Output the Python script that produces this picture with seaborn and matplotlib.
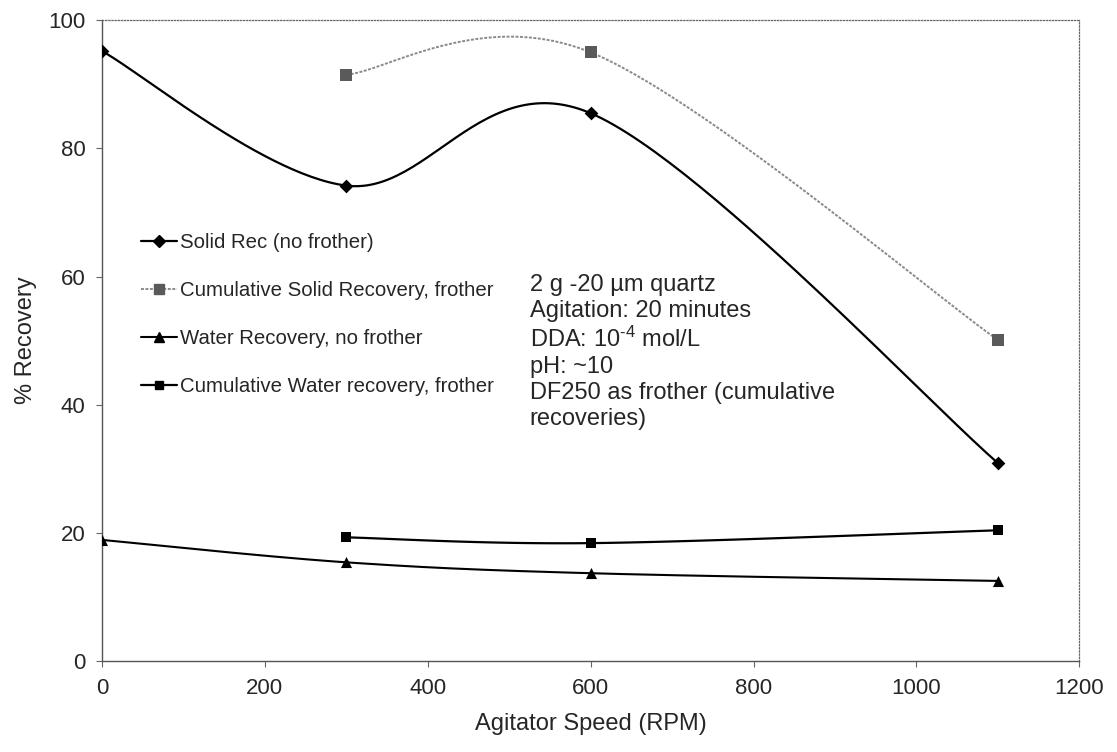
import numpy as np
import pandas as pd
import matplotlib
matplotlib.use("Agg")
import matplotlib.pyplot as plt
from matplotlib.lines import Line2D
import seaborn as sns

# Agitator speed (RPM) for each series
speed_no_frother = [0, 300, 600, 1100]
speed_frother = [300, 600, 1100]

# Recoveries (%)
solid_rec_no_frother = [95.2, 74.2, 85.5, 30.9]
cum_solid_rec_frother = [91.5, 95.0, 50.1]
water_rec_no_frother = [18.9, 15.4, 13.7, 12.5]
cum_water_rec_frother = [19.3, 18.4, 20.4]

series_labels = [
    "Solid Rec (no frother)",
    "Cumulative Solid Recovery, frother",
    "Water Recovery, no frother",
    "Cumulative Water recovery, frother",
]

x_ticks = [0, 200, 400, 600, 800, 1000, 1200]
y_ticks = [0, 20, 40, 60, 80, 100]

notes = ("2 g -20 \u00b5m quartz\n"
         "Agitation: 20 minutes\n"
         "DDA: 10$^{\u20104}$ mol/L\n"
         "pH: ~10\n"
         "DF250 as frother (cumulative\n"
         "recoveries)")


def smooth_curve(xs, ys, n=60):
    """Spreadsheet-style smoothed line: cubic Bezier segments with
    Catmull-Rom control points passing through every data point."""
    p = np.column_stack([xs, ys]).astype(float)
    m = len(p)
    out = []
    for i in range(m - 1):
        p0 = p[i]
        p3 = p[i + 1]
        prev = p[i - 1] if i > 0 else p[i]
        nxt = p[i + 2] if i + 2 < m else p[i + 1]
        c1 = p0 + (p3 - prev) / 6.0
        c2 = p3 - (nxt - p0) / 6.0
        t = np.linspace(0, 1, n)[:, None]
        seg = ((1 - t) ** 3 * p0 + 3 * (1 - t) ** 2 * t * c1
               + 3 * (1 - t) * t ** 2 * c2 + t ** 3 * p3)
        out.append(seg if i == 0 else seg[1:])
    out = np.vstack(out)
    return out[:, 0], out[:, 1]


sns.set_style("white")
plt.rcParams["font.family"] = ["Liberation Sans", "DejaVu Sans"]
plt.rcParams["mathtext.fontset"] = "custom"
plt.rcParams["mathtext.rm"] = "Liberation Sans"
plt.rcParams["mathtext.it"] = "Liberation Sans"

fig = plt.figure(figsize=(11.17, 7.52), dpi=100)
ax = fig.add_axes([0.0913, 0.121, 0.875, 0.852])

styles = [
    dict(x=speed_no_frother, y=solid_rec_no_frother, color="black",
         ls="-", lw=1.6, marker="D", mc="black", ms=7),
    dict(x=speed_frother, y=cum_solid_rec_frother, color="#8a8a8a",
         ls=(0, (1.5, 0.8)), lw=1.4, marker="s", mc="#5a5a5a", ms=8),
    dict(x=speed_no_frother, y=water_rec_no_frother, color="black",
         ls="-", lw=1.5, marker="^", mc="black", ms=8),
    dict(x=speed_frother, y=cum_water_rec_frother, color="black",
         ls="-", lw=1.6, marker="s", mc="black", ms=7.5),
]

handles = []
for st, label in zip(styles, series_labels):
    sx, sy = smooth_curve(st["x"], st["y"])
    curve = pd.DataFrame({"speed": sx, "rec": sy})
    sns.lineplot(data=curve, x="speed", y="rec", sort=False, estimator=None,
                 color=st["color"], linewidth=st["lw"], linestyle=st["ls"],
                 ax=ax, legend=False)
    pts = pd.DataFrame({"speed": st["x"], "rec": st["y"]})
    sns.scatterplot(data=pts, x="speed", y="rec", marker=st["marker"],
                    color=st["mc"], s=st["ms"] ** 2, edgecolor=st["mc"],
                    linewidth=0, ax=ax, legend=False, zorder=5)
    handles.append(Line2D([], [], color=st["color"], lw=st["lw"],
                          linestyle=st["ls"], marker=st["marker"],
                          markerfacecolor=st["mc"], markeredgecolor=st["mc"],
                          markersize=st["ms"] * 0.85))

ax.set_xlim(0, 1200)
ax.set_ylim(0, 100)
ax.set_xticks(x_ticks)
ax.set_yticks(y_ticks)
ax.tick_params(axis="both", labelsize=16, direction="out", length=4,
               width=0.8, color="#666666", pad=8, bottom=True, left=True)
ax.set_xlabel("Agitator Speed (RPM)", fontsize=17, labelpad=10)
ax.set_ylabel("% Recovery", fontsize=17, labelpad=8)

for side in ("left", "bottom"):
    ax.spines[side].set_color("#555555")
    ax.spines[side].set_linewidth(1.0)
for side in ("top", "right"):
    ax.spines[side].set_visible(True)
    ax.spines[side].set_color("#666666")
    ax.spines[side].set_linewidth(0.9)
    ax.spines[side].set_linestyle((0, (1, 1.5)))

leg = ax.legend(handles, series_labels, loc="upper left",
                bbox_to_anchor=(0.032, 0.681), frameon=False, fontsize=14.7,
                handlelength=1.75, handletextpad=0.12, labelspacing=1.42,
                borderaxespad=0)

ax.text(525, 60.4, notes, fontsize=17, va="top", ha="left",
        linespacing=1.24)

fig.savefig("out.png", dpi=100)
